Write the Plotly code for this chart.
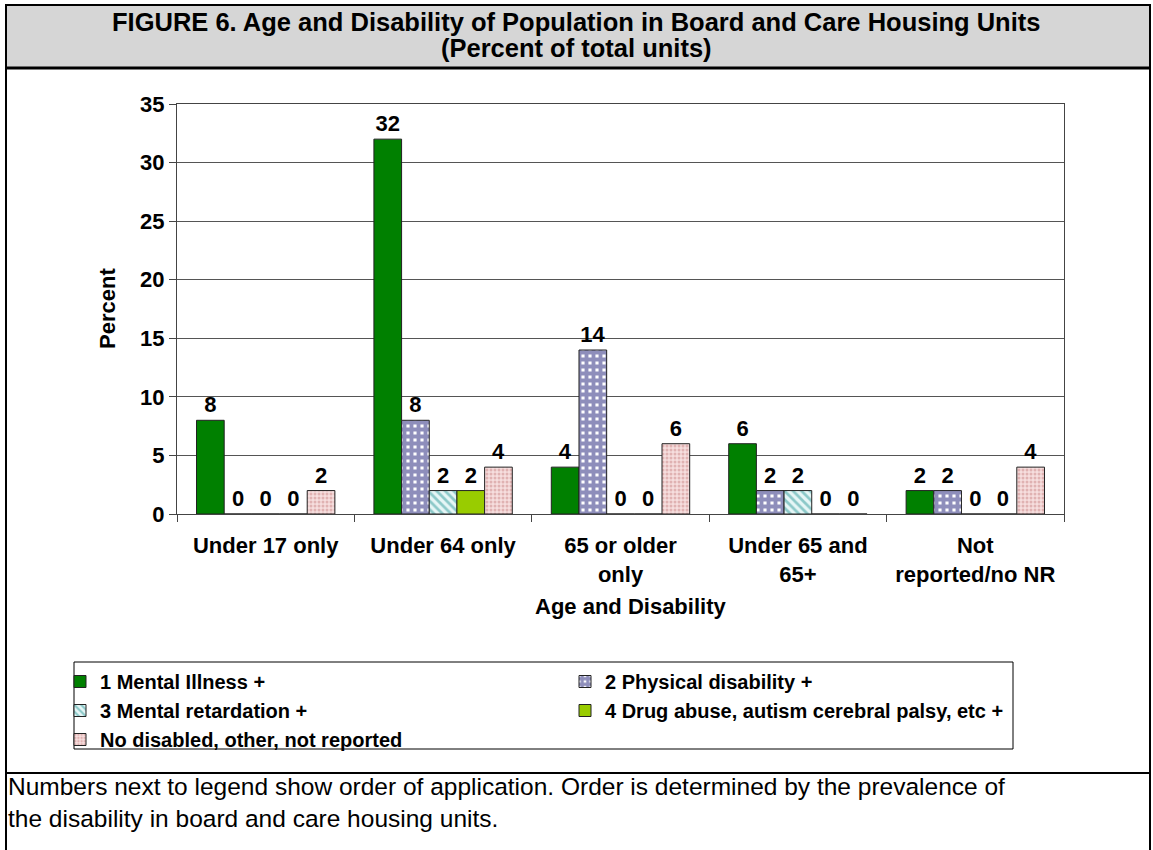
import plotly.graph_objects as go

categories = ["Under 17 only", "Under 64 only", "65 or older<br>only", "Under 65 and<br>65+", "Not<br>reported/no NR"]
series_names = [
    "1 Mental Illness +",
    "2 Physical disability +",
    "3 Mental retardation +",
    "4 Drug abuse, autism cerebral palsy, etc +",
    "No disabled, other, not reported",
]
mental_illness = [8, 32, 4, 6, 2]
physical_disability = [0, 8, 14, 2, 2]
mental_retardation = [0, 2, 0, 2, 0]
drug_abuse = [0, 2, 0, 0, 0]
no_disabled = [2, 4, 6, 0, 4]
y_ticks = [0, 5, 10, 15, 20, 25, 30, 35]

FONT = "Liberation Sans, Arial, sans-serif"

# plot area in pixels
W, H = 1153, 850
L, R, T, B = 177, 1064, 104, 514
PW, PH = R - L, B - T


def px(x):
    return (x - L) / PW


def py(y):
    return (B - y) / PH


styles = [
    dict(color="#008000"),
    dict(color="#FFFFFF", pattern=dict(shape="+", fgcolor="#1E1E78", size=7, solidity=0.8, fillmode="overlay")),
    dict(color="#E6F6F6", pattern=dict(shape="\\", fgcolor="#2F9A9A", size=6, solidity=0.45, fillmode="overlay")),
    dict(color="#99CC00"),
    dict(color="#F6DEDE", pattern=dict(shape=".", fgcolor="#C98686", size=4, solidity=0.45, fillmode="overlay")),
]
values = [mental_illness, physical_disability, mental_retardation, drug_abuse, no_disabled]

fig = go.Figure()
for name, vals, st in zip(series_names, values, styles):
    marker = dict(st)
    marker["line"] = dict(color="#222222", width=1)
    fig.add_trace(go.Bar(
        x=categories, y=vals, name=name, marker=marker,
        texttemplate="%{y}", textposition="outside", constraintext="none",
        textfont=dict(family=FONT, size=22, color="black", weight="bold"),
        cliponaxis=False,
    ))

shapes = []
# outer border
shapes.append(dict(type="rect", xref="paper", yref="paper",
                   x0=px(6), x1=px(1150), y0=py(852), y1=py(5),
                   line=dict(color="black", width=2), layer="below"))
# title box
shapes.append(dict(type="rect", xref="paper", yref="paper",
                   x0=px(6), x1=px(1150), y0=py(68), y1=py(5),
                   fillcolor="#D6D6D6", line=dict(color="black", width=2), layer="below"))
shapes.append(dict(type="line", xref="paper", yref="paper",
                   x0=px(6), x1=px(1150), y0=py(68), y1=py(68),
                   line=dict(color="black", width=3)))
# footnote separator
shapes.append(dict(type="line", xref="paper", yref="paper",
                   x0=px(6), x1=px(1150), y0=py(773), y1=py(773),
                   line=dict(color="black", width=2)))
# legend box
shapes.append(dict(type="rect", xref="paper", yref="paper",
                   x0=px(74), x1=px(1013), y0=py(749), y1=py(662),
                   line=dict(color="black", width=1)))

annotations = [
    dict(text="FIGURE 6. Age and Disability of Population in Board and Care Housing Units",
         x=px(576), y=py(22), xref="paper", yref="paper", showarrow=False,
         xanchor="center", yanchor="middle",
         font=dict(family=FONT, size=25.5, color="black", weight="bold")),
    dict(text="(Percent of total units)",
         x=px(576), y=py(48), xref="paper", yref="paper", showarrow=False,
         xanchor="center", yanchor="middle",
         font=dict(family=FONT, size=25.5, color="black", weight="bold")),
    dict(text="Percent", textangle=-90,
         x=px(107), y=py(309), xref="paper", yref="paper", showarrow=False,
         xanchor="center", yanchor="middle",
         font=dict(family=FONT, size=22, color="black", weight="bold")),
    dict(text="Age and Disability",
         x=px(630), y=py(606), xref="paper", yref="paper", showarrow=False,
         xanchor="center", yanchor="middle",
         font=dict(family=FONT, size=22, color="black", weight="bold")),
    dict(text="Numbers next to legend show order of application. Order is determined by the prevalence of<br>the disability in board and care housing units.",
         x=px(6), y=py(802), xref="paper", yref="paper", showarrow=False,
         xanchor="left", yanchor="middle", align="left",
         font=dict(family=FONT, size=24.5, color="black")),
]

fig.update_layout(
    width=W, height=H,
    margin=dict(l=L, r=W - R, t=T, b=H - B, pad=0),
    paper_bgcolor="white", plot_bgcolor="white",
    barmode="group", bargap=0.22, bargroupgap=0,
    showlegend=True,
    legend=dict(orientation="h", x=px(60), y=py(662), xanchor="left", yanchor="top",
                entrywidth=460, entrywidthmode="pixels", traceorder="normal",
                font=dict(family=FONT, size=20, color="black", weight="bold"),
                bgcolor="rgba(0,0,0,0)", itemwidth=30, tracegroupgap=0),
    shapes=shapes, annotations=annotations,
    xaxis=dict(type="category", tickson="boundaries", ticks="outside", ticklen=7,
               tickcolor="#444", showline=True, linecolor="#444", linewidth=1, mirror=True,
               ticklabelstandoff=12,
               tickfont=dict(family=FONT, size=22, color="black", weight="bold"),
               showgrid=False),
    yaxis=dict(range=[0, 35], tickvals=y_ticks, ticks="outside", ticklen=7, tickcolor="#444",
               showline=True, linecolor="#444", linewidth=1, mirror=True,
               showgrid=True, gridcolor="#555", gridwidth=1, zeroline=False,
               tickfont=dict(family=FONT, size=22, color="black", weight="bold")),
)

fig.write_html("out.html", config={"displayModeBar": False},
               post_script="document.body.style.margin='0px';")
